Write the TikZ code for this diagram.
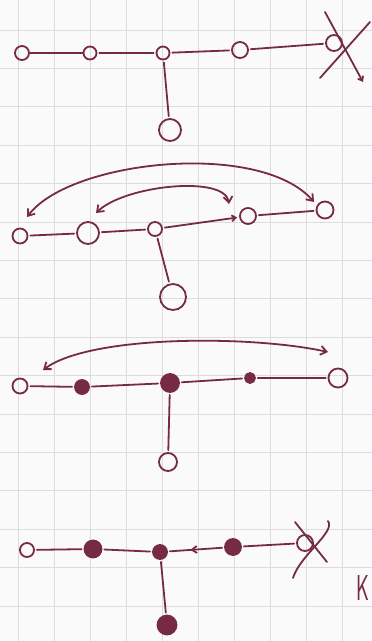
\documentclass[tikz,border=0pt]{standalone}
\usetikzlibrary{arrows.meta, decorations.markings}
\definecolor{ink}{RGB}{118,42,68}
\definecolor{paper}{RGB}{251,250,250}
\definecolor{gridgray}{RGB}{220,220,222}
\tikzset{
  pen/.style={draw=ink, line width=1.8pt, line cap=round},
  vopen/.style={circle, pen, inner sep=0pt, minimum size=#1},
  vfull/.style={circle, pen, fill=ink, inner sep=0pt, minimum size=#1},
  link/.style={pen, shorten <=2pt, shorten >=2pt},
  arrowed/.style={-{Straight Barb[length=4pt,width=6pt]}},
  jump/.style={pen, {Straight Barb[length=6pt,width=9pt]}-{Straight Barb[length=6pt,width=9pt]}},
  midtip/.style={postaction={decorate}, decoration={markings,
    mark=at position 0.6 with {\arrow{Straight Barb[length=5pt,width=7pt]}}}}
}

\begin{document}
\begin{tikzpicture}[x=1pt,y=-1pt]
\useasboundingbox (0,0) rectangle (372,641);
\fill [paper] (0,0) rectangle (372,641);
% squared paper
\foreach \gx in {18,54,...,360} \draw [gridgray, line width=0.8pt] (\gx,0) -- (\gx,641);
\foreach \gy in {30,68.4,...,640} \draw [gridgray, line width=0.8pt] (0,\gy) -- (372,\gy);

% sketch 1
\node [vopen=14pt] (a1) at (22,53)  {};
\node [vopen=13pt] (a2) at (90,53)  {};
\node [vopen=13pt] (a3) at (163,53) {};
\node [vopen=16pt] (a4) at (240,50) {};
\node [vopen=16pt] (a5) at (334,43) {};
\node [vopen=22pt] (ab) at (170,130) {};
\draw [pen] (a1) -- (a2);
\draw [link] (a2) -- (a3);
\draw [link] (a3) -- (a4);
\draw [link] (a4) -- (a5);
\draw [link] (a3) -- (ab);
\draw [pen, arrowed] (325,12) -- (363,82);
\draw [pen] (370,22) -- (320,78);

% sketch 2
\node [vopen=15pt] (b1) at (20,236)  {};
\node [vopen=22pt] (b2) at (88,233)  {};
\node [vopen=14pt] (b3) at (155,229) {};
\node [vopen=16pt] (b4) at (248,216) {};
\node [vopen=17pt] (b5) at (325,210) {};
\node [vopen=26pt] (bb) at (173,297) {};
\coordinate (b1top) at (27,217);
\coordinate (b2top) at (96,213);
\coordinate (b4top) at (229,204);
\coordinate (b5top) at (314,202);
\draw [link] (b1) -- (b2);
\draw [link] (b2) -- (b3);
\draw [link, arrowed] (b3) -- (b4);
\draw [link] (b4) -- (b5);
\draw [link] (b3) -- (bb);
\draw [jump] (b1top) .. controls (70,160) and (260,140) .. (b5top);
\draw [jump] (b2top) .. controls (125,185) and (225,175) .. (b4top);

% sketch 3
\node [vopen=15pt] (c1) at (20,386)  {};
\node [vfull=14pt] (c2) at (82,387)  {};
\node [vfull=18pt] (c3) at (170,383) {};
\node [vfull=10pt] (c4) at (250,378) {};
\node [vopen=19pt] (c5) at (338,378) {};
\node [vopen=18pt] (cb) at (168,462) {};
\coordinate (c1top) at (43,370);
\coordinate (c5top) at (328,352);
\draw [link] (c1) -- (c2);
\draw [link] (c2) -- (c3);
\draw [link] (c3) -- (c4);
\draw [link] (c4) -- (c5);
\draw [link] (c3) -- (cb);
\draw [jump] (c1top) .. controls (90,335) and (250,335) .. (c5top);

% sketch 4
\node [vopen=14pt] (d1) at (27,550)  {};
\node [vfull=17pt] (d2) at (93,549)  {};
\node [vfull=14pt] (d3) at (160,552) {};
\node [vfull=16pt] (d4) at (233,547) {};
\node [vopen=16pt] (d5) at (305,543) {};
\node [vfull=19pt] (db) at (167,625) {};
\draw [link] (d1) -- (d2);
\draw [link] (d2) -- (d3);
\draw [link, midtip] (d4) -- (d3);
\draw [link] (d4) -- (d5);
\draw [link] (d3) -- (db);
\draw [pen] (295,522) -- (327,562);
\draw [pen] (328,521) .. controls (336,532) and (300,555) .. (293,578);
\node [ink, font=\sffamily\fontsize{36}{36}\selectfont, anchor=base west, inner sep=0pt] (cutk) at (356,600) {\scalebox{0.55}[1]{K}};
\end{tikzpicture}
\end{document}
